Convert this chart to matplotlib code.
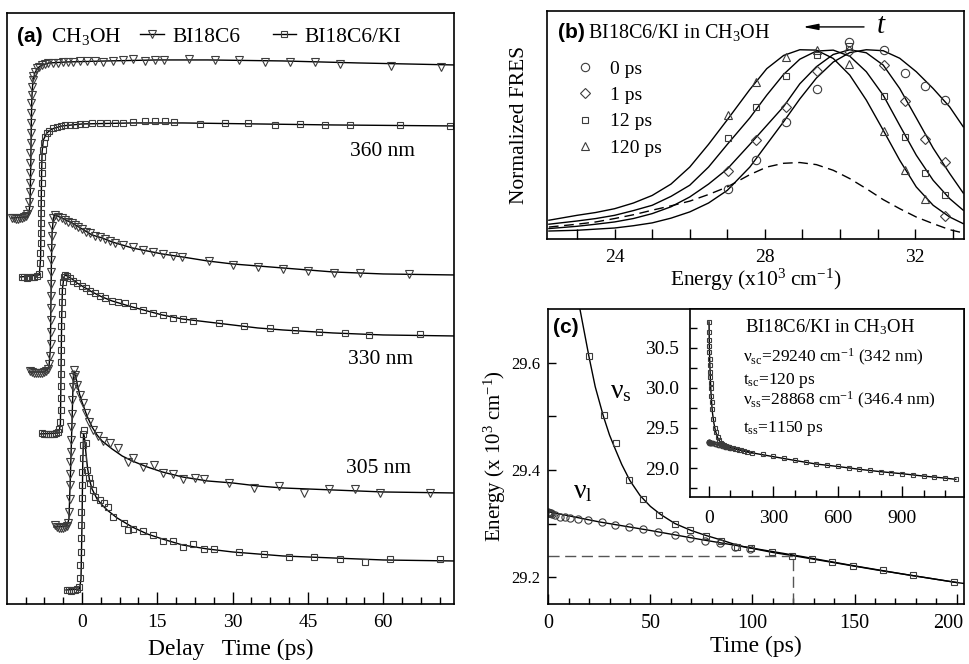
import matplotlib
matplotlib.use('Agg')
import matplotlib.pyplot as plt
from matplotlib.ticker import MultipleLocator, FixedLocator, NullLocator, FormatStrFormatter
from matplotlib.transforms import ScaledTranslation
from matplotlib.lines import Line2D

plt.rcParams['font.family'] = ['Liberation Serif', 'DejaVu Serif']
plt.rcParams['mathtext.fontset'] = 'custom'
plt.rcParams['mathtext.rm'] = 'Liberation Serif'
plt.rcParams['mathtext.it'] = 'Liberation Serif:italic'
plt.rcParams['mathtext.bf'] = 'Liberation Serif:bold'

# ---------------- panel (a): kinetic traces (delay time, offset signal) ----------------
a360_bi_t = [-14.0, -13.6, -13.2, -12.8, -12.4, -12.0, -11.6, -11.2, -10.9,
             -10.6, -10.5, -10.45, -10.4, -10.35, -10.3, -10.27, -10.24, -10.2, -10.16, -10.12, -10.08, -10.0, -9.92, -9.82,
             -9.70, -9.36, -9.03, -8.5, -8.03, -7.37, -6.7, -5.7, -4.7, -3.7, -2.7, -1.7, -0.4, 0.9, 2.6, 4.2, 6.2, 8.2,
             10.2, 12.5, 14.5, 16.3, 21.4, 26.4, 31.3, 36.5, 41.4, 46.4, 51.4, 61.5, 71.5]
a360_bi_y = [3.86, 3.86, 3.85, 3.85, 3.86, 3.86, 3.87, 3.88, 3.90,
             3.94, 4.02, 4.12, 4.21, 4.31, 4.41, 4.51, 4.61, 4.71, 4.81, 4.91, 5.01, 5.09, 5.17, 5.24,
             5.28, 5.32, 5.36, 5.37, 5.39, 5.40, 5.41, 5.41, 5.41, 5.42, 5.42, 5.42, 5.43, 5.43, 5.43, 5.42, 5.43, 5.44,
             5.45, 5.43, 5.44, 5.44, 5.45, 5.44, 5.44, 5.42, 5.42, 5.42, 5.40, 5.38, 5.37]
a360_bi_ft = [-14.0, -11.0, -10.6, -10.35, -10.2, -10.1, -10.0, -9.8, -9.4, -8.8, -8.0, -6.5, -3.0, 5.0, 15.0, 25.0, 40.0, 55.0, 74.1]
a360_bi_fy = [3.86, 3.87, 3.90, 4.00, 4.40, 4.80, 5.05, 5.22, 5.31, 5.36, 5.39, 5.41, 5.42, 5.43, 5.44, 5.44, 5.43, 5.41, 5.39]

a360_ki_t = [-12.0, -11.5, -11.0, -10.5, -10.0, -9.5, -9.0, -8.6,
             -8.35, -8.3, -8.25, -8.2, -8.18, -8.15, -8.12, -8.1, -8.06, -8.0, -7.95, -7.88, -7.8, -7.65,
             -7.37, -7.03, -6.5, -5.85, -5.07, -4.25, -3.4, -2.4, -1.4, -0.4, 0.6, 1.9, 3.6, 4.9, 6.6, 8.2,
             10.2, 12.5, 14.5, 16.5, 18.3, 23.5, 28.5, 33.1, 38.4, 43.4, 48.4, 53.4, 63.3, 73.4]
a360_ki_y = [3.27, 3.27, 3.26, 3.27, 3.27, 3.27, 3.28, 3.30,
             3.41, 3.51, 3.61, 3.71, 3.81, 3.91, 4.01, 4.11, 4.21, 4.31, 4.39, 4.47, 4.54, 4.61,
             4.67, 4.71, 4.73, 4.76, 4.77, 4.78, 4.79, 4.79, 4.79, 4.80, 4.80, 4.81, 4.81, 4.81, 4.81, 4.81,
             4.82, 4.83, 4.83, 4.83, 4.82, 4.80, 4.81, 4.81, 4.79, 4.80, 4.79, 4.79, 4.79, 4.78]
a360_ki_ft = [-12.3, -8.5, -8.25, -8.15, -8.05, -7.95, -7.7, -7.0, -6.0, -4.0, 0.0, 10.0, 20.0, 35.0, 50.0, 74.1]
a360_ki_fy = [3.27, 3.29, 3.45, 3.90, 4.30, 4.52, 4.64, 4.71, 4.75, 4.78, 4.80, 4.81, 4.81, 4.80, 4.79, 4.78]

a330_bi_t = [-10.4, -10.0, -9.6, -9.2, -8.8, -8.4, -8.0, -7.6, -7.2, -6.8, -6.5,
             -6.3, -6.27, -6.25, -6.23, -6.21, -6.19, -6.17, -6.15, -6.12, -6.08, -6.0, -5.9, -5.7,
             -5.4, -4.7, -4.05, -3.4, -2.7, -2.05, -1.4, -0.73, -0.07, 0.8, 1.6, 2.6, 3.6, 4.6, 5.6, 6.6, 8.2,
             10.2, 12.2, 14.2, 16.2, 18.2, 20.0, 25.2, 30.1, 35.1, 40.1, 45.1, 50.1, 55.3, 65.2]
a330_bi_y = [2.33, 2.32, 2.31, 2.31, 2.31, 2.31, 2.31, 2.32, 2.33, 2.35, 2.40,
             2.48, 2.60, 2.72, 2.84, 2.96, 3.08, 3.20, 3.32, 3.44, 3.56, 3.68, 3.78, 3.86,
             3.89, 3.87, 3.86, 3.84, 3.82, 3.81, 3.79, 3.77, 3.75, 3.72, 3.71, 3.68, 3.67, 3.65, 3.63, 3.61, 3.59,
             3.57, 3.54, 3.52, 3.50, 3.48, 3.47, 3.43, 3.39, 3.37, 3.35, 3.33, 3.31, 3.31, 3.30]
a330_bi_ft = [-10.6, -7.5, -6.6, -6.3, -6.2, -6.1, -5.95, -5.7, -5.4, -4.0, -2.0, 0.0, 2.0, 4.0, 6.0, 8.0, 10.0, 13.0,
              16.0, 20.0, 25.0, 30.0, 35.0, 40.0, 45.0, 50.0, 60.0, 74.1]
a330_bi_fy = [2.32, 2.32, 2.36, 2.55, 2.95, 3.40, 3.72, 3.86, 3.89, 3.86, 3.81, 3.75, 3.69, 3.66, 3.62, 3.59, 3.56, 3.53,
              3.50, 3.47, 3.43, 3.40, 3.38, 3.36, 3.34, 3.32, 3.30, 3.29]

a330_ki_t = [-8.0, -7.6, -7.2, -6.8, -6.4, -6.0, -5.6, -5.2, -4.8, -4.5,
             -4.3, -4.25, -4.22, -4.2, -4.18, -4.16, -4.14, -4.12, -4.1, -4.08, -4.04, -3.98, -3.85, -3.65,
             -3.39, -3.06, -2.4, -1.73, -0.93, -0.07, 0.8, 1.6, 2.6, 3.6, 4.6, 5.9, 7.2, 8.6,
             10.2, 12.2, 14.2, 16.2, 18.2, 20.2, 22.2, 27.2, 32.3, 37.5, 42.4, 47.3, 52.3, 57.2, 67.3]
a330_ki_y = [1.71, 1.70, 1.70, 1.70, 1.70, 1.70, 1.70, 1.71, 1.72, 1.75,
             1.82, 1.94, 2.06, 2.18, 2.30, 2.42, 2.54, 2.66, 2.78, 2.90, 3.02, 3.13, 3.22, 3.27,
             3.29, 3.28, 3.26, 3.23, 3.21, 3.18, 3.16, 3.13, 3.11, 3.08, 3.06, 3.03, 3.02, 3.01,
             2.98, 2.94, 2.91, 2.89, 2.86, 2.85, 2.83, 2.81, 2.78, 2.76, 2.74, 2.72, 2.71, 2.69, 2.70]
a330_ki_ft = [-8.4, -4.6, -4.3, -4.18, -4.05, -3.9, -3.6, -3.3, -2.0, -1.0, 0.0, 2.0, 4.0, 6.0, 8.0, 10.0, 13.0, 16.0,
              20.0, 25.0, 30.0, 35.0, 40.0, 50.0, 60.0, 74.1]
a330_ki_fy = [1.70, 1.71, 1.80, 2.30, 2.85, 3.15, 3.27, 3.29, 3.25, 3.21, 3.18, 3.12, 3.07, 3.03, 3.00, 2.97, 2.93, 2.89,
              2.85, 2.82, 2.79, 2.76, 2.74, 2.71, 2.69, 2.68]

a305_bi_t = [-5.4, -5.0, -4.6, -4.2, -3.8, -3.4, -3.0, -2.7,
             -2.5, -2.45, -2.4, -2.35, -2.3, -2.25, -2.2, -2.12, -2.05, -1.95, -1.85, -1.75,
             -1.6, -1.39, -0.93, -0.4, 0.13, 0.8, 1.46, 2.25, 3.25, 4.25, 5.6, 7.2, 9.2, 10.2, 12.2, 14.3, 16.2,
             18.2, 20.2, 22.5, 24.3, 29.3, 34.3, 39.3, 44.2, 49.3, 54.3, 59.4, 69.3]
a305_bi_y = [0.79, 0.77, 0.76, 0.76, 0.76, 0.77, 0.78, 0.81,
             0.92, 1.05, 1.19, 1.30, 1.42, 1.52, 1.64, 1.77, 1.90, 2.04, 2.17, 2.27,
             2.34, 2.29, 2.19, 2.09, 2.01, 1.91, 1.82, 1.74, 1.68, 1.63, 1.61, 1.56, 1.42, 1.46, 1.37, 1.39, 1.31,
             1.30, 1.25, 1.26, 1.25, 1.21, 1.16, 1.18, 1.11, 1.15, 1.15, 1.11, 1.11]
a305_bi_ft = [-5.6, -3.0, -2.6, -2.3, -2.0, -1.75, -1.6, -1.2, -0.5, 0.0, 1.0, 2.0, 3.0, 4.0, 6.0, 8.0, 10.0, 13.0,
              16.0, 20.0, 25.0, 30.0, 35.0, 40.0, 50.0, 60.0, 74.1]
a305_bi_fy = [0.77, 0.78, 0.85, 1.30, 1.80, 2.25, 2.33, 2.26, 2.10, 2.02, 1.88, 1.77, 1.69, 1.63, 1.55, 1.48, 1.43, 1.37,
              1.32, 1.27, 1.23, 1.21, 1.18, 1.16, 1.14, 1.12, 1.11]

a305_ki_t = [-3.0, -2.6, -2.2, -1.8, -1.4, -1.0, -0.6,
             -0.35, -0.3, -0.25, -0.2, -0.15, -0.1, -0.05, 0.0, 0.05, 0.1, 0.15, 0.2,
             0.3, 0.8, 1.06, 1.33, 1.6, 2.1, 2.6, 3.6, 4.4, 5.2, 6.2, 8.4, 9.2, 10.2, 12.2, 14.2, 16.2,
             18.2, 20.2, 22.2, 24.3, 26.3, 31.3, 36.3, 41.3, 46.3, 51.3, 56.4, 61.4, 71.3]
a305_ki_y = [0.14, 0.14, 0.13, 0.14, 0.14, 0.15, 0.17,
             0.26, 0.39, 0.52, 0.66, 0.79, 0.92, 1.06, 1.19, 1.32, 1.46, 1.59, 1.70,
             1.74, 1.61, 1.34, 1.26, 1.21, 1.14, 1.07, 1.04, 1.01, 0.97, 0.87, 0.81, 0.74, 0.75, 0.73, 0.69, 0.63,
             0.63, 0.57, 0.60, 0.55, 0.55, 0.52, 0.50, 0.47, 0.47, 0.45, 0.42, 0.45, 0.45]
a305_ki_ft = [-3.2, -0.5, -0.2, 0.0, 0.15, 0.3, 0.5, 0.8, 1.1, 1.5, 2.0, 3.0, 4.0, 5.0, 7.0, 10.0, 13.0, 16.0,
              20.0, 25.0, 30.0, 35.0, 40.0, 50.0, 60.0, 74.1]
a305_ki_fy = [0.14, 0.15, 0.25, 0.80, 1.40, 1.70, 1.66, 1.50, 1.36, 1.24, 1.15, 1.05, 0.99, 0.94, 0.86, 0.77, 0.70, 0.65,
              0.59, 0.55, 0.52, 0.50, 0.48, 0.46, 0.44, 0.43]

a_wavelengths = ['360 nm', '330 nm', '305 nm']

# ---------------- panel (b): normalized FRES ----------------
fres_E = [22.25, 23.0, 23.5, 24.0, 24.5, 25.0, 25.5, 26.0, 26.5, 27.0, 27.6, 28.05, 28.5, 28.93,
          29.37, 29.82, 30.26, 30.7, 31.15, 31.59, 32.03, 32.48, 32.92, 33.28]
fit_0ps = [0.042, 0.046, 0.052, 0.058, 0.070, 0.085, 0.110, 0.143, 0.190, 0.257, 0.380, 0.500, 0.620, 0.740,
           0.850, 0.935, 0.985, 1.000, 0.995, 0.955, 0.884, 0.795, 0.698, 0.593]
fit_1ps = [0.055, 0.067, 0.078, 0.090, 0.108, 0.134, 0.170, 0.222, 0.290, 0.370, 0.500, 0.600, 0.700, 0.820,
           0.910, 0.975, 1.000, 0.984, 0.919, 0.795, 0.640, 0.480, 0.346, 0.243]
fit_12ps = [0.078, 0.095, 0.108, 0.125, 0.150, 0.178, 0.225, 0.284, 0.380, 0.500, 0.640, 0.760, 0.870, 0.950,
            0.993, 0.998, 0.966, 0.884, 0.760, 0.600, 0.443, 0.310, 0.213, 0.152]
fit_120ps = [0.099, 0.125, 0.140, 0.160, 0.190, 0.230, 0.290, 0.380, 0.500, 0.630, 0.790, 0.900, 0.970, 1.000,
             0.998, 0.954, 0.866, 0.734, 0.575, 0.416, 0.275, 0.178, 0.116, 0.081]
fit_dashed = [0.063, 0.078, 0.090, 0.108, 0.128, 0.152, 0.175, 0.200, 0.235, 0.275, 0.340, 0.380, 0.400, 0.404,
              0.393, 0.363, 0.319, 0.266, 0.208, 0.160, 0.116, 0.081, 0.049, 0.032]

mk_E = [27.02, 27.76, 28.55, 29.38, 30.25, 31.18, 31.74, 32.27, 32.80]
mk_0ps = [0.266, 0.416, 0.619, 0.795, 1.040, 0.998, 0.878, 0.808, 0.734]
mk_1ps_E = [27.02, 27.76, 28.55, 29.38, 30.25, 31.18, 31.74, 32.27, 32.80, 32.80]
mk_1ps = [0.360, 0.522, 0.698, 0.887, 0.995, 0.917, 0.730, 0.526, 0.407, 0.120]
mk_12ps = [0.531, 0.698, 0.861, 0.972, 1.020, 0.757, 0.540, 0.349, 0.231]
mk_120ps_E = [27.02, 27.76, 28.55, 29.38, 30.25, 31.18, 31.74, 32.27]
mk_120ps = [0.654, 0.831, 0.963, 1.000, 0.924, 0.570, 0.363, 0.213]
b_labels = ['0 ps', '1 ps', '12 ps', '120 ps']

# ---------------- panel (c): spectral relaxation ----------------
nus_t = [0, 0.5, 1, 1.5, 2, 3, 4, 5, 6, 7, 8, 10, 12, 15,
         20.1, 27.1, 33.2, 39.7, 46.6, 54.0, 62.1, 69.4, 77.1, 84.6, 92.3, 99.3, 109.4, 119.2, 129.3,
         138.8, 149.4, 164.1, 178.8, 198.7,
         250, 300, 350, 400, 450, 500, 550, 600, 650, 700, 750, 800, 850, 900, 950, 1000, 1050, 1100, 1150]
nus_E = [30.82, 30.70, 30.60, 30.52, 30.45, 30.36, 30.28, 30.20, 30.13, 30.06, 30.00, 29.90, 29.82, 29.74,
         29.612, 29.503, 29.450, 29.382, 29.346, 29.316, 29.299, 29.288, 29.276, 29.268, 29.257, 29.254,
         29.246, 29.240, 29.234, 29.228, 29.221, 29.213, 29.204, 29.191,
         29.17, 29.145, 29.12, 29.095, 29.07, 29.05, 29.035, 29.02, 29.00, 28.985, 28.97, 28.955, 28.94,
         28.93, 28.915, 28.90, 28.89, 28.875, 28.86]
nus_fit_t = [0, 1, 2, 4, 6, 8, 10, 12, 14, 15.5, 18, 20, 23, 27, 30, 33, 36, 40, 45, 50, 55, 62, 70, 77,
             85, 93, 102, 110, 120, 140, 160, 180, 200, 300, 400, 500, 600, 700, 800, 900, 1000, 1100, 1150]
nus_fit_E = [30.82, 30.60, 30.45, 30.28, 30.13, 30.00, 29.90, 29.82, 29.75, 29.70, 29.65, 29.61, 29.555,
             29.50, 29.465, 29.437, 29.41, 29.38, 29.352, 29.332, 29.317, 29.300, 29.287, 29.278, 29.269,
             29.259, 29.252, 29.246, 29.240, 29.227, 29.214, 29.202, 29.190, 29.142, 29.095, 29.05, 29.02,
             28.985, 28.955, 28.93, 28.90, 28.875, 28.86]
nul_t = [0, 0.3, 0.6, 1.0, 1.5, 2.0, 3.3, 5.7, 8.2, 10.6, 14.7, 19.6, 26.1, 32.6, 39.7, 46.5, 53.8, 62.0,
         69.3, 76.7, 84.0, 91.4, 99.0]
nul_E = [29.321, 29.320, 29.320, 29.319, 29.319, 29.318, 29.316, 29.313, 29.312, 29.310, 29.309, 29.307,
         29.302, 29.297, 29.293, 29.290, 29.284, 29.279, 29.273, 29.268, 29.263, 29.257, 29.253]
nul_fit_t = [0, 25, 50, 75, 100, 125, 150, 175, 200]
nul_fit_E = [29.322, 29.303, 29.287, 29.270, 29.254, 29.238, 29.221, 29.205, 29.190]
t_sc = 120
nu_sc = 29.24

MEC = '#3c3c3c'
LW = 1.0
TICK = 14

fig = plt.figure(figsize=(9.69, 6.64), dpi=100)
axa = fig.add_axes([0.00722, 0.0904, 0.4613, 0.8901])
axb = fig.add_axes([0.5645, 0.6401, 0.4303, 0.3434])
axc = fig.add_axes([0.5658, 0.0904, 0.4290, 0.4443])
axi = fig.add_axes([0.7121, 0.2515, 0.2828, 0.2831])

for ax in (axa, axb, axc, axi):
    for s in ax.spines.values():
        s.set_linewidth(1.2)


def marks(ax, x, y, m, ms, **kw):
    return ax.plot(x, y, linestyle='none', marker=m, ms=ms, mfc='none', mec=MEC, mew=0.8, **kw)


# ---- (a)
traces = [
    (a360_bi_ft, a360_bi_fy, a360_bi_t, a360_bi_y, 'v'),
    (a360_ki_ft, a360_ki_fy, a360_ki_t, a360_ki_y, 's'),
    (a330_bi_ft, a330_bi_fy, a330_bi_t, a330_bi_y, 'v'),
    (a330_ki_ft, a330_ki_fy, a330_ki_t, a330_ki_y, 's'),
    (a305_bi_ft, a305_bi_fy, a305_bi_t, a305_bi_y, 'v'),
    (a305_ki_ft, a305_ki_fy, a305_ki_t, a305_ki_y, 's'),
]
for ft, fy, t, y, m in traces:
    axa.plot(ft, fy, color='k', lw=LW)
    marks(axa, t, y, m, 5.5 if m == 'v' else 4.8)

axa.set_xlim(-14.94, 74.1)
axa.set_ylim(0, 5.91)
axa.xaxis.set_major_locator(FixedLocator([0, 15, 30, 45, 60]))
axa.xaxis.set_minor_locator(MultipleLocator(3.75))
axa.yaxis.set_major_locator(NullLocator())
axa.tick_params(axis='x', which='major', direction='in', length=8.5, width=1, labelsize=TICK, pad=7)
axa.tick_params(axis='x', which='minor', direction='in', length=5, width=1)
axa.set_xlabel('Delay   Time (ps)', fontsize=17, labelpad=6)

for lab, (tx, ty) in zip(a_wavelengths, [(59.8, 4.52), (59.4, 2.44), (59.0, 1.35)]):
    axa.text(tx, ty, lab, fontsize=15.5, ha='center', va='center')

axa.text(0.0224, 0.9594, '(a)', transform=axa.transAxes, fontsize=15, fontweight='bold',
         family='Liberation Sans', va='center', ha='left')
axa.text(0.0984, 0.9594, 'CH$_3$OH', transform=axa.transAxes, fontsize=15.5, va='center', ha='left')
ha = [Line2D([], [], color='k', lw=LW, marker='v', ms=5.5, mfc='none', mec=MEC, mew=0.8),
      Line2D([], [], color='k', lw=LW, marker='s', ms=4.8, mfc='none', mec=MEC, mew=0.8)]
axa.legend(ha, ['BI18C6', 'BI18C6/KI'], ncol=2, loc='center left', bbox_to_anchor=(0.2975, 0.9594),
           frameon=False, handlelength=1.1, handletextpad=0.4, columnspacing=1.5, borderpad=0,
           borderaxespad=0, fontsize=15.5)

# ---- (b)
for fy in (fit_0ps, fit_1ps, fit_12ps, fit_120ps):
    axb.plot(fres_E, fy, color='k', lw=LW)
axb.plot(fres_E, fit_dashed, color='k', lw=LW, linestyle=(0, (7, 4)))
h0, = marks(axb, mk_E, mk_0ps, 'o', 6)
h1, = marks(axb, mk_1ps_E, mk_1ps, 'D', 5)
h2, = marks(axb, mk_E, mk_12ps, 's', 5)
h3, = marks(axb, mk_120ps_E, mk_120ps, '^', 6)
axb.legend([h0, h1, h2, h3], b_labels, loc='upper left', bbox_to_anchor=(0.067, 0.785),
           frameon=False, handlelength=1.0, handletextpad=0.8, labelspacing=0.45, borderpad=0,
           borderaxespad=0, fontsize=14, numpoints=1)
axb.set_xlim(22.2, 33.3)
axb.set_ylim(0, 1.205)
axb.xaxis.set_major_locator(FixedLocator([24, 28, 32]))
axb.xaxis.set_minor_locator(MultipleLocator(1))
axb.yaxis.set_major_locator(NullLocator())
axb.tick_params(axis='x', which='both', direction='in', length=7, width=1, labelsize=TICK, pad=7)
axb.set_xlabel('Energy (x10$^3$ cm$^{-1}$)', fontsize=15.5, labelpad=1)
axb.set_ylabel('Normalized FRES', fontsize=15.5, labelpad=13)
axb.text(0.026, 0.905, '(b)', transform=axb.transAxes, fontsize=15, fontweight='bold',
         family='Liberation Sans', va='center', ha='left')
axb.text(0.098, 0.905, 'BI18C6/KI in CH$_3$OH', transform=axb.transAxes, fontsize=14.5, va='center', ha='left')
axb.annotate('', xy=(0.607, 0.93), xytext=(0.767, 0.93), xycoords='axes fraction',
             arrowprops=dict(arrowstyle='-|>,head_length=0.9,head_width=0.18', color='k', lw=1))
axb.text(0.79, 0.935, 't', transform=axb.transAxes, fontsize=21, style='italic', va='center', ha='left')

# ---- (c)
axc.plot(nus_fit_t, nus_fit_E, color='k', lw=LW)
axc.plot(nul_fit_t, nul_fit_E, color='k', lw=LW)
marks(axc, nus_t, nus_E, 's', 5)
marks(axc, nul_t, nul_E, 'o', 5.2)
axc.hlines(nu_sc, 0, t_sc, color='#555555', lw=1, linestyles=(0, (8, 4)))
axc.vlines(t_sc, 29.15, nu_sc, color='#555555', lw=1, linestyles=(0, (8, 4)))
axc.set_xlim(0, 203.6)
axc.set_ylim(29.15, 29.70)
axc.xaxis.set_major_locator(MultipleLocator(50))
axc.xaxis.set_minor_locator(MultipleLocator(10))
axc.yaxis.set_major_locator(FixedLocator([29.2, 29.4, 29.6]))
axc.yaxis.set_minor_locator(FixedLocator([29.3, 29.5]))
axc.tick_params(axis='x', which='major', direction='in', length=7, width=1, labelsize=14.5, pad=7)
axc.tick_params(axis='x', which='minor', direction='in', length=4.5, width=1)
axc.tick_params(axis='y', which='both', direction='in', length=6, width=1, labelsize=12, pad=6)
axc.set_xlabel('Time (ps)', fontsize=17, labelpad=2)
axc.set_ylabel('Energy (x 10$^3$ cm$^{-1}$)', fontsize=15, labelpad=2)
axc.text(0.012, 0.936, '(c)', transform=axc.transAxes, fontsize=15, fontweight='bold',
         family='Liberation Sans', va='center', ha='left')
axc.text(30.0, 29.546, 'ν$_{\\mathrm{s}}$', fontsize=20, va='center', ha='left')
axc.text(12.0, 29.36, 'ν$_{\\mathrm{l}}$', fontsize=20, va='center', ha='left')
fig.canvas.draw()
last = axc.get_xticklabels()[-1]
for lab in axc.get_xticklabels():
    if lab.get_text() == '200':
        lab.set_transform(lab.get_transform() + ScaledTranslation(-6 / 72, 0, fig.dpi_scale_trans))

# ---- inset
axi.plot(nus_fit_t, nus_fit_E, color='k', lw=LW)
axi.plot(nul_fit_t, nul_fit_E, color='k', lw=LW)
marks(axi, nus_t, nus_E, 's', 3.2)
marks(axi, nul_t, nul_E, 'o', 3.2)
axi.set_xlim(-88.5, 1188)
axi.set_ylim(28.64, 30.98)
axi.xaxis.set_major_locator(MultipleLocator(300))
axi.xaxis.set_minor_locator(MultipleLocator(100))
axi.yaxis.set_major_locator(MultipleLocator(0.5))
axi.yaxis.set_minor_locator(MultipleLocator(0.25))
axi.yaxis.set_major_formatter(FormatStrFormatter('%.1f'))
axi.tick_params(axis='x', which='major', direction='in', length=8, width=1, labelsize=14, pad=9)
axi.tick_params(axis='x', which='minor', direction='in', length=5, width=1)
axi.tick_params(axis='y', which='both', direction='in', length=5, width=1, labelsize=14, pad=8)
axi.text(0.20, 0.904, 'BI18C6/KI in CH$_3$OH', transform=axi.transAxes, fontsize=13.5, va='center', ha='left')
axi.text(0.193, 0.745, 'ν$_{\\mathrm{sc}}$=29240 cm$^{-1}$ (342 nm)', transform=axi.transAxes,
         fontsize=12.5, va='center', ha='left')
axi.text(0.193, 0.622, 't$_{\\mathrm{sc}}$=120 ps', transform=axi.transAxes, fontsize=12.5, va='center', ha='left')
axi.text(0.193, 0.516, 'ν$_{\\mathrm{ss}}$=28868 cm$^{-1}$ (346.4 nm)', transform=axi.transAxes,
         fontsize=12.5, va='center', ha='left')
axi.text(0.193, 0.367, 't$_{\\mathrm{ss}}$=1150 ps', transform=axi.transAxes, fontsize=12.5, va='center', ha='left')

fig.savefig('out.png', dpi=100)
